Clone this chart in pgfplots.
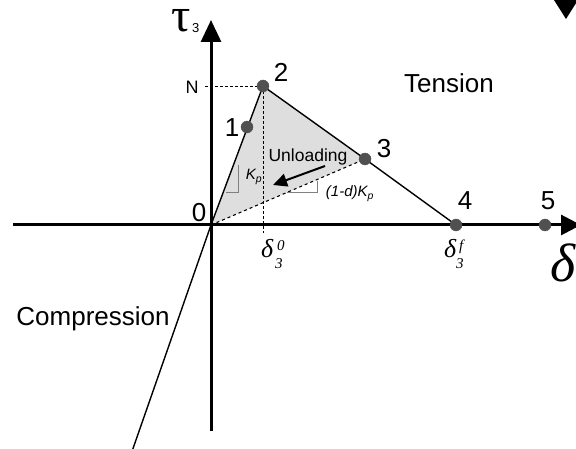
\documentclass[border=0pt]{standalone}
\usepackage{fontspec}
\setmainfont{Liberation Sans}
\newfontfamily\grk{Liberation Serif}
\usepackage{pgfplots}
\pgfplotsset{compat=1.18}
\usetikzlibrary{arrows.meta}
\definecolor{markgray}{HTML}{505050}
\definecolor{shade}{HTML}{DEDEDE}
\newcommand{\fs}[1]{\fontsize{#1}{#1}\selectfont}
\begin{document}
\begin{tikzpicture}
\path[use as bounding box] (0,0) rectangle (576pt,449pt);
\clip (0,0) rectangle (576pt,449pt);
\begin{axis}[at={(0,0)}, anchor=south west, scale only axis,
  width=576pt, height=449pt, xmin=0, xmax=576, ymin=0, ymax=449,
  y dir=reverse, hide axis, clip=false]

% area enclosed by loading and unloading paths
\addplot[fill=shade, draw=none] coordinates {(211,225) (263,86) (365,159)} -- cycle;

% guide lines
\addplot[densely dashed, line width=0.9pt] coordinates {(205,86) (263,86)};
\addplot[densely dashed, line width=0.8pt] coordinates {(263,86) (263,233)};

% unloading path
\addplot[dashed, line width=1.1pt] coordinates {(211,225) (365,159)};

% slope triangles
\addplot[gray, line width=1pt] coordinates {(226,193) (238,193) (238,165)};
\addplot[gray, line width=1pt] coordinates {(287,193) (317,193) (317,181)};

% traction-separation law
\addplot[line width=1.4pt] coordinates {(129,460) (211,225) (263,86) (365,159) (456,225)};

% axes
\addplot[line width=3pt, -{Triangle[length=20pt,width=20pt]}] coordinates {(13,225) (581,225)};
\addplot[line width=3pt, -{Triangle[length=22pt,width=20pt]}] coordinates {(211,431) (211,20)};

% marker at top right
\addplot[fill=black, draw=none] coordinates {(554,0) (578,0) (566,19)} -- cycle;

% unloading arrow
\addplot[line width=2pt, -{Triangle[length=14pt,width=13pt]}] coordinates {(325,166) (273,185)};

% state points
\addplot[only marks, mark=*, mark size=6pt, mark options={fill=markgray, draw=markgray}]
  coordinates {(247,127) (263,86) (365,159) (456,225) (545,225)};

% labels
\node[anchor=base, font=\fs{26}] at (axis cs:232,137) {1};
\node[anchor=base, font=\fs{26}] at (axis cs:281,82) {2};
\node[anchor=base, font=\fs{26}] at (axis cs:384,158) {3};
\node[anchor=base, font=\fs{26}] at (axis cs:465,210) {4};
\node[anchor=base, font=\fs{26}] at (axis cs:548,210) {5};
\node[anchor=base, font=\fs{26}] at (axis cs:199,222) {0};
\node[anchor=base, font=\fs{18}] at (axis cs:192,94) {N};
\node[anchor=base, font=\fs{26}] at (axis cs:449,93) {Tension};
\node[anchor=base, font=\fs{26}] at (axis cs:93,325) {Compression};
\node[anchor=base, font=\fs{17.5}] at (axis cs:308,162) {Unloading};
\node[anchor=base, font=\fs{15}\itshape] at (axis cs:350,197) {(1-d)K\textsubscript{p}};
\node[anchor=base, font=\fs{15}\itshape] at (axis cs:254,180) {K\textsubscript{p}};
% axis symbols
\node[anchor=base west, inner sep=0pt, text height=22pt, text depth=0pt, font=\grk\fs{48}] at (axis cs:171,32) {τ};
\node[anchor=base west, inner sep=0pt, font=\fs{13}] at (axis cs:192,33) {3};
\node[anchor=base west, inner sep=0pt, font=\grk\itshape\fs{26}] at (axis cs:261,258) {δ};
\node[anchor=base west, inner sep=0pt, font=\grk\itshape\fs{15}] at (axis cs:277,251) {0};
\node[anchor=base west, inner sep=0pt, font=\grk\itshape\fs{15}] at (axis cs:275,269) {3};
\node[anchor=base west, inner sep=0pt, font=\grk\itshape\fs{26}] at (axis cs:444,258) {δ};
\node[anchor=base west, inner sep=0pt, font=\grk\itshape\fs{15}] at (axis cs:459,251) {f};
\node[anchor=base west, inner sep=0pt, font=\grk\itshape\fs{15}] at (axis cs:456,269) {3};
\node[anchor=base west, inner sep=0pt, font=\grk\itshape\fs{54}] at (axis cs:550,282) {δ};
\end{axis}
\end{tikzpicture}
\end{document}
